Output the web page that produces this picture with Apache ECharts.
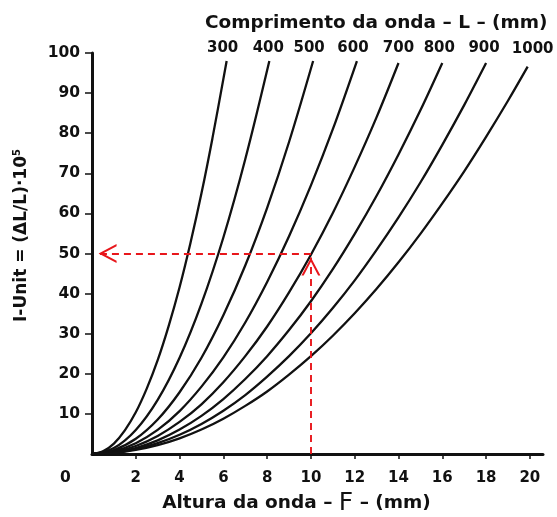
<!DOCTYPE html>
<html>
<head>
<meta charset="utf-8">
<script src="https://cdn.jsdelivr.net/npm/echarts@6/dist/echarts.min.js"></script>
<style>html,body{margin:0;padding:0;background:#fff}#c{width:557px;height:517px}</style>
</head>
<body>
<div id="c"></div>
<script>
// Wave length categories (mm)
var waveLengths = [300, 400, 500, 600, 700, 800, 900, 1000];
// Curves: [F (mm), I-Unit]
var curve300 = [[0,0],[0.5,0.65],[1,2.6],[1.5,5.9],[2,10.4],[2.5,16.3],[3,23.4],[3.5,31.9],[4,41.6],[4.5,52.7],[5,65],[5.5,78.7],[6.15,98]];
var curve400 = [[0,0],[1,1.5],[2,6],[3,13.5],[4,24],[5,37.5],[6,54],[7,73.5],[8.1,98]];
var curve500 = [[0,0],[1,1],[2,3.8],[3,8.6],[4,15.4],[5,24],[6,34.6],[7,47],[8,61.4],[9,77.8],[10.1,98]];
var curve600 = [[0,0],[1,0.7],[2,2.7],[3,6],[4,10.7],[5,16.8],[6,24.1],[7,32.8],[8,42.9],[9,54.3],[10,67],[11,81],[12.1,98]];
var curve700 = [[0,0],[1,0.5],[2,2],[3,4.5],[4,8],[5,12.4],[6,17.9],[7,24.4],[8,31.8],[9,40.3],[10,49.7],[11,60.1],[12,71.6],[13,84],[14,97.5]];
var curve800 = [[0,0],[1,0.4],[2,1.5],[3,3.4],[4,6.1],[5,9.5],[6,13.7],[7,18.7],[8,24.4],[9,30.9],[10,38.1],[11,46.1],[12,54.9],[13,64.4],[14,74.7],[15,85.7],[16,97.5]];
var curve900 = [[0,0],[1,0.3],[2,1.2],[3,2.7],[4,4.8],[5,7.5],[6,10.8],[7,14.7],[8,19.3],[9,24.4],[10,30.1],[11,36.4],[12,43.3],[13,50.9],[14,59],[15,67.7],[16,77.1],[17,87],[18,97.5]];
var curve1000 = [[0,0],[1,0.2],[2,1],[3,2.2],[4,3.9],[5,6.1],[6,8.8],[7,12],[8,15.6],[9,19.8],[10,24.4],[11,29.5],[12,35.1],[13,41.2],[14,47.8],[15,54.9],[16,62.5],[17,70.5],[18,79.1],[19,88.1],[19.9,96.6]];
var curves = [curve300, curve400, curve500, curve600, curve700, curve800, curve900, curve1000];
// Tick labels
var xTicks = [2,4,6,8,10,12,14,16,18,20];
var yTicks = [10,20,30,40,50,60,70,80,90,100];
// Example reading (red dashed arrows)
var exampleF = 10;
var exampleI = 50;
var exampleTipI = 49;
var exampleEndF = 0.3;

var FONT = 'DejaVu Sans';
// label nudges (px) so the wave-length labels sit on one row above the curve ends
var labelNudge = [[-4, 0], [-1, 0], [-4, 0], [-4, 0], [0, -2], [-3, -2], [-2, -2], [5, -5]];
// open chevron; an invisible speck above keeps the tip at the symbol centre
var chevron = 'path://M0,0 L10,19 L7.6,19 L0,4.6 L-7.6,19 L-10,19 Z M0,-19 L0.02,-19 L0,-18.98 Z';

var series = curves.map(function (arr, i) {
  return {
    type: 'line',
    data: arr,
    smooth: 0.35,
    showSymbol: false,
    silent: true,
    lineStyle: { color: '#111', width: 2.3 },
    markPoint: {
      symbol: 'circle', symbolSize: 1,
      itemStyle: { color: 'rgba(0,0,0,0)' },
      label: { show: true, position: 'top', distance: 5, offset: labelNudge[i],
        formatter: String(waveLengths[i]),
        color: '#111', fontFamily: FONT, fontWeight: 'bold', fontSize: 15 },
      data: [{ coord: arr[arr.length - 1] }]
    }
  };
});
series.push({
  type: 'line', data: [], silent: true,
  markLine: {
    silent: true,
    symbol: ['none', chevron],
    symbolSize: [19, 36],
    lineStyle: { color: '#e8161b', width: 1.9, type: [7, 5] },
    label: { show: false },
    data: [
      [{ coord: [exampleF, 0] }, { coord: [exampleF, exampleTipI] }],
      [{ coord: [exampleF, exampleI] }, { coord: [exampleEndF, exampleI] }]
    ]
  }
});

var chart = echarts.init(document.getElementById('c'), null, { renderer: 'canvas' });
chart.setOption({
  animation: false,
  backgroundColor: '#fff',
  title: {
    text: 'Comprimento da onda – L – (mm)',
    left: 200, top: 9,
    textStyle: { fontFamily: FONT, fontWeight: 'bold', fontSize: 18.5, color: '#111' }
  },
  grid: { left: 92, right: 14, top: 53, bottom: 63, containLabel: false, outerBoundsMode: 'none' },
  xAxis: {
    type: 'value', min: 0, max: 20.6,
    name: '{b|Altura da onda – }{f|F}{b| – (mm)}',
    nameLocation: 'middle', nameGap: 37,
    nameTextStyle: {
      padding: [0, 42, 0, 0],
      rich: {
        b: { fontFamily: FONT, fontWeight: 'bold', fontSize: 18.5, color: '#111' },
        f: { fontFamily: FONT, fontWeight: 'normal', fontSize: 25, color: '#111' }
      }
    },
    axisLine: { show: true, onZero: false, lineStyle: { color: '#111', width: 3 } },
    axisTick: { show: true, customValues: xTicks, length: 5, lineStyle: { color: '#111', width: 1.5 } },
    axisLabel: { customValues: xTicks, margin: 17, color: '#111', fontFamily: FONT, fontWeight: 'bold', fontSize: 15 },
    splitLine: { show: false }
  },
  yAxis: {
    type: 'value', min: 0, max: 100,
    name: '{b|I-Unit = (ΔL/L)·10}{s|5}',
    nameLocation: 'middle', nameGap: 60, nameRotate: 90,
    nameTextStyle: {
      padding: [0, 0, 0, 36],
      rich: {
        b: { fontFamily: FONT, fontWeight: 'bold', fontSize: 17, color: '#111' },
        s: { fontFamily: FONT, fontWeight: 'bold', fontSize: 10, color: '#111', padding: [0, 0, 10, 0] }
      }
    },
    axisLine: { show: true, onZero: false, lineStyle: { color: '#111', width: 3 } },
    axisTick: { show: true, customValues: yTicks, length: 7, lineStyle: { color: '#111', width: 1.5 } },
    axisLabel: { customValues: yTicks, margin: 12, color: '#111', fontFamily: FONT, fontWeight: 'bold', fontSize: 15.5 },
    splitLine: { show: false }
  },
  graphic: [{
    type: 'text', left: 60, top: 470,
    style: { text: '0', fontFamily: FONT, fontWeight: 'bold', fontSize: 15.5, fill: '#111' }
  }],
  series: series
});
</script>
</body>
</html>
